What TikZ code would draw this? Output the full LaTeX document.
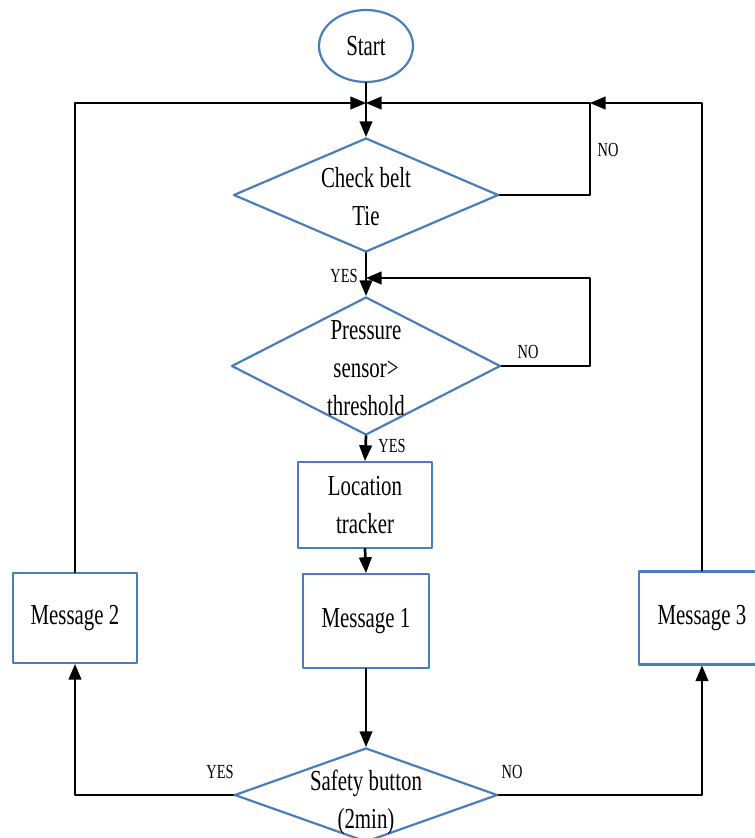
\documentclass[tikz,border=0pt]{standalone}
\usepackage{fontspec}
\setmainfont{Liberation Serif}[FakeStretch=0.72]
\usepackage{tikz}
\usetikzlibrary{arrows,shapes.geometric}
\definecolor{boxblue}{RGB}{74,126,187}

\begin{document}
\begin{tikzpicture}[line cap=round,line join=round,>=triangle 45,x=1pt,y=-1pt,
  blk/.style={draw=boxblue,line width=2.2pt,fill=white,inner sep=0pt},
  dia/.style={blk,diamond},
  box/.style={blk,rectangle},
  txt/.style={align=center,font=\fontsize{29}{38}\selectfont},
  lbl/.style={font=\fontsize{20}{22}\selectfont},
  con/.style={line width=2.7pt}]
\useasboundingbox (0,0) rectangle (755,838);
\clip (0,0) rectangle (755,838);
% shapes
\node[blk,ellipse,txt,minimum width=94pt,minimum height=72pt] (start) at (366,46) {Start};
\node[dia,minimum width=265pt,minimum height=114pt] (chk) at (366,195) {};
\node[txt] (chkt) at (366,197) {Check belt\\Tie};
\node[dia,minimum width=269pt,minimum height=138pt] (prs) at (366,366) {};
\node[txt] (prst) at (366,368) {Pressure\\sensor>\\threshold};
\node[box,txt,minimum width=134pt,minimum height=86pt] (loc) at (365,505) {Location\\tracker};
\node[box,txt,minimum width=126pt,minimum height=94pt] (msg1) at (366,621) {Message 1};
\node[box,txt,minimum width=124pt,minimum height=90pt] (msg2) at (75,618) {Message 2};
\node[box,txt,minimum width=126pt,minimum height=93pt] (msg3) at (702,618) {Message 3};
\node[dia,minimum width=263pt,minimum height=94pt] (saf) at (366,795) {};
\node[txt] (saft) at (366,802) {Safety button\\(2min)};
% labels
\node[lbl] (yes1) at (344,276) {YES};
\node[lbl] (no1) at (608,150) {NO};
\node[lbl] (no2) at (528,352) {NO};
\node[lbl] (yes2) at (392,446) {YES};
\node[lbl] (yes3) at (220,772) {YES};
\node[lbl] (no3) at (512,772) {NO};
% junctions
\coordinate (jtop) at (366,103);
\coordinate (ntop) at (590,103);
\coordinate (jmid) at (366,278);
\coordinate (nmid) at (590,278);
% connectors
\draw[con,->] (start.south) -- (chk.north);
\draw[con,->] (msg2.north) |- (jtop);
\draw[con,->] (chk.east) -| (ntop) -- (jtop);
\draw[con,->] (msg3.north) |- (ntop);
\draw[con,->] (chk.south) -- (prs.north);
\draw[con,->] (prs.east) -| (nmid) -- (jmid);
\draw[con,->] (prs.south) -- (loc.north);
\draw[con,->] (loc.south) -- (msg1.north);
\draw[con,->] (msg1.south) -- (saf.north);
\draw[con,->] (saf.west) -| (msg2.south);
\draw[con,->] (saf.east) -| (msg3.south);
\end{tikzpicture}
\end{document}
